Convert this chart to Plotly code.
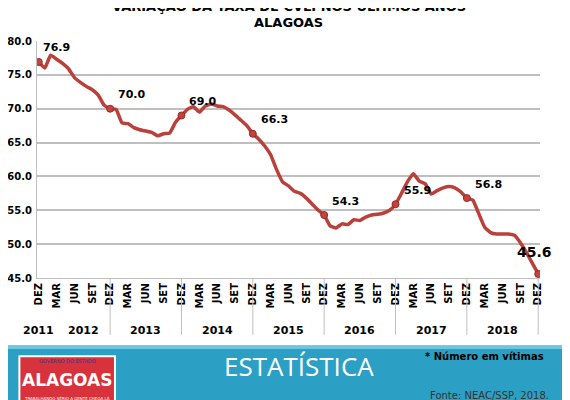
import plotly.graph_objects as go

months = ['DEZ', 'JAN', 'FEV', 'MAR', 'ABR', 'MAI', 'JUN', 'JUL', 'AGO', 'SET', 'OUT', 'NOV']
years = ['2011', '2012', '2013', '2014', '2015', '2016', '2017', '2018']
y_ticks = [45, 50, 55, 60, 65, 70, 75, 80]

taxa = [76.9, 76.0, 77.9, 77.3, 76.7, 75.9, 74.6, 73.9, 73.3, 72.8, 72.0, 70.5, 70.0,
        69.9, 67.9, 67.8, 67.2, 66.9, 66.7, 66.5, 66.0, 66.3, 66.4, 68.0, 69.0,
        69.9, 70.3, 69.5, 70.4, 70.7, 70.4, 70.3, 69.8, 69.1, 68.3, 67.5, 66.3,
        65.5, 64.5, 63.2, 61.0, 59.2, 58.6, 57.8, 57.5, 56.8, 55.9, 55.0, 54.3,
        52.7, 52.4, 53.0, 52.9, 53.6, 53.5, 54.0, 54.3, 54.4, 54.6, 55.0, 55.9,
        57.5, 59.2, 60.4, 59.3, 58.9, 57.4, 57.9, 58.3, 58.5, 58.3, 57.7, 56.8,
        56.5, 54.5, 52.5, 51.7, 51.5, 51.5, 51.5, 51.3, 50.2, 48.8, 47.2, 45.6]

x = list(range(len(taxa)))
tick_idx = [i for i in x if i % 3 == 0]
tick_txt = [months[i % 12] for i in tick_idx]
dez_idx = [i for i in x if i % 12 == 0]

fig = go.Figure()
fig.add_trace(go.Scatter(x=x, y=taxa, mode='lines',
                         line=dict(color='#B9403B', width=3.5, shape='spline', smoothing=0.4),
                         hoverinfo='skip'))
fig.add_trace(go.Scatter(x=dez_idx, y=[taxa[i] for i in dez_idx], mode='markers',
                         marker=dict(color='#C8423D', size=7, line=dict(color='#8E2E2A', width=1)),
                         hoverinfo='skip'))

# point labels
for i in dez_idx:
    last = i == x[-1]
    fig.add_annotation(x=i, y=taxa[i], text='<b>%.1f</b>' % taxa[i], showarrow=False,
                       xshift=-4 if last else (2 if i == 0 else 6),
                       yshift=22 if last else 14,
                       font=dict(size=14 if last else 11, color='black', family='DejaVu Sans'),
                       xanchor='center' if last else 'left', yanchor='middle')


def note(xp, yp, text, size, color, family='DejaVu Sans'):
    fig.add_annotation(xref='paper', yref='paper', x=xp, y=yp, text=text, showarrow=False,
                       xanchor='center', yanchor='middle',
                       font=dict(size=size, color=color, family=family))


# title (top line cut off as in the slide)
note(0.5, 1.145, '<b>VARIAÇÃO DA TAXA DE CVLI NOS ÚLTIMOS ANOS</b>', 13, 'black')
note(0.5, 1.08, '<b>ALAGOAS</b>', 13, 'black')

# year labels and separators
year_pos = [0, 7.5, 18, 30, 42, 54, 66, 78]
for xc, yr in zip(year_pos, years):
    fig.add_annotation(x=xc, y=-0.22, yref='paper', text='<b>%s</b>' % yr, showarrow=False,
                       yanchor='middle', font=dict(size=11, color='black', family='DejaVu Sans'))
for i in dez_idx[1:]:
    fig.add_shape(type='line', x0=i, x1=i, y0=0, y1=-0.24, yref='paper',
                  line=dict(color='#BFBFBF', width=1))

# bottom banner
fig.add_shape(type='rect', xref='paper', yref='paper', x0=-0.1, x1=1.1, y0=-0.55, y1=-0.285,
              fillcolor='#2C9FC4', line=dict(width=0), layer='below')
fig.add_shape(type='rect', xref='paper', yref='paper', x0=-0.1, x1=1.1, y0=-0.3, y1=-0.285,
              fillcolor='#6CC6E0', line=dict(width=0), layer='below')
# page edges
fig.add_shape(type='rect', xref='paper', yref='paper', x0=-0.074, x1=-0.066, y0=-0.55, y1=1.2,
              fillcolor='#333333', line=dict(width=0))
fig.add_shape(type='rect', xref='paper', yref='paper', x0=1.047, x1=1.06, y0=-0.3, y1=1.2,
              fillcolor='#9A9A9A', line=dict(width=0))
fig.add_shape(type='rect', xref='paper', yref='paper', x0=-0.035, x1=0.155, y0=-0.55, y1=-0.33,
              fillcolor='#D8323C', line=dict(color='white', width=2))
note(0.06, -0.43, '<b>ALAGOAS</b>', 17, 'white')
note(0.06, -0.35, 'GOVERNO DO ESTADO', 5, '#1F3F8F')
note(0.06, -0.51, 'TRABALHANDO SÉRIO A GENTE CHEGA LÁ', 4, 'white')
note(0.52, -0.37, 'ESTATÍSTICA', 26, 'white', 'Open Sans')
note(0.89, -0.33, '<b>* Número em vítimas</b>', 10, 'black')
note(0.9, -0.495, 'Fonte: NEAC/SSP, 2018.', 10, '#333333')

fig.update_layout(
    width=562, height=392,
    margin=dict(l=29, r=30, t=33, b=122),
    paper_bgcolor='white', plot_bgcolor='white',
    showlegend=False,
)
fig.update_xaxes(range=[-0.3, 84.3], tickvals=tick_idx, ticktext=['<b>%s</b>' % t for t in tick_txt],
                 tickangle=-90, tickfont=dict(size=10, color='black', family='DejaVu Sans'),
                 showgrid=False, showline=True, linecolor='#BFBFBF', zeroline=False, automargin=False)
fig.update_yaxes(range=[45, 80], tickvals=y_ticks, ticktext=['<b>%.1f</b>' % v for v in y_ticks],
                 tickfont=dict(size=10, color='black', family='DejaVu Sans'),
                 showgrid=True, gridcolor='#BFBFBF', gridwidth=1.5,
                 showline=True, linecolor='#BFBFBF', zeroline=False, ticklabelstandoff=2,
                 automargin=False)

fig.write_html('out.html')
